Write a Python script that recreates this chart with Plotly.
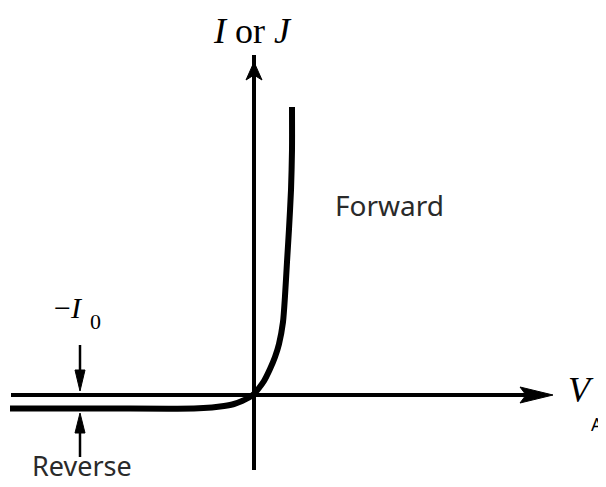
import plotly.graph_objects as go

# Diode I-V characteristic (arbitrary units)
V_curve = [-244, -150, -60, -42, -30, -20, -12, -5, 0, 5, 10, 16, 21, 25, 29, 31, 33, 35, 37, 38, 38]
I_curve = [-13.5, -13.5, -13.5, -12.5, -11, -9, -6, -2.5, 1, 7, 14, 26, 38, 51, 73, 99, 133, 166, 205, 245, 288]

# axis extents (same units)
x_axis_min, x_axis_max = -243, 299
y_axis_min, y_axis_max = -75, 340
i0_marker_x = -174

fig = go.Figure()

fig.add_trace(go.Scatter(
    x=V_curve, y=I_curve, mode="lines",
    line=dict(color="black", width=6, shape="spline", smoothing=0.7),
    hoverinfo="skip", showlegend=False))

shapes = []
# horizontal axis line + arrowhead
shapes.append(dict(type="line", x0=x_axis_min, y0=0, x1=x_axis_max - 25, y1=0,
                   line=dict(color="black", width=4)))
tx = x_axis_max
shapes.append(dict(type="path",
                   path=f"M {tx} 0 L {tx-33} 8 L {tx-27} 0 L {tx-33} -8 Z",
                   fillcolor="black", line=dict(color="black", width=1)))
# vertical axis line + arrowhead
shapes.append(dict(type="line", x0=0, y0=y_axis_min, x1=0, y1=y_axis_max,
                   line=dict(color="black", width=4)))
ty = y_axis_max - 7
shapes.append(dict(type="path",
                   path=f"M 0 {ty} L 8 {ty-18} L 0 {ty-13} L -8 {ty-18} Z",
                   fillcolor="black", line=dict(color="black", width=1)))
# -I0 dimension arrows
shapes.append(dict(type="line", x0=i0_marker_x, y0=50, x1=i0_marker_x, y1=22,
                   line=dict(color="black", width=2.5)))
shapes.append(dict(type="path",
                   path=f"M {i0_marker_x} 4 L {i0_marker_x-5} 25 L {i0_marker_x+5} 25 Z",
                   fillcolor="black", line=dict(color="black", width=1)))
shapes.append(dict(type="line", x0=i0_marker_x, y0=-62, x1=i0_marker_x, y1=-35,
                   line=dict(color="black", width=2.5)))
shapes.append(dict(type="path",
                   path=f"M {i0_marker_x} -18 L {i0_marker_x-5} -38 L {i0_marker_x+5} -38 Z",
                   fillcolor="black", line=dict(color="black", width=1)))

serif = "Liberation Serif"
sans = "Noto Sans"
ann = [
    dict(x=-2, y=386, text="<i>I</i> or <i>J</i>", font=dict(family=serif, size=36, color="black"),
         xanchor="center", yanchor="top"),
    dict(x=312, y=5, text="<i>V</i>", font=dict(family=serif, size=36, color="black"),
         xanchor="left", yanchor="middle"),
    dict(x=335, y=-29, text="A", font=dict(family=sans, size=18, color="black"),
         xanchor="left", yanchor="middle"),
    dict(x=-186, y=88, text="−<i>I</i>", font=dict(family=serif, size=30, color="black"),
         xanchor="center", yanchor="middle"),
    dict(x=-159, y=74, text="0", font=dict(family=serif, size=22, color="black"),
         xanchor="center", yanchor="middle"),
    dict(x=135, y=190, text="Forward", font=dict(family=sans, size=28, color="#2a2a2a"),
         xanchor="center", yanchor="middle"),
    dict(x=-172, y=-91, text="Reverse", font=dict(family=sans, size=27, color="#2a2a2a"),
         xanchor="center", yanchor="bottom"),
]
for a in ann:
    a.update(showarrow=False, xref="x", yref="y")

# the page body adds an 8px margin, so the figure is 8px smaller than the window
fig.update_layout(
    width=598, height=479,
    margin=dict(l=0, r=0, t=0, b=0),
    paper_bgcolor="white", plot_bgcolor="white",
    xaxis=dict(range=[-246, 352], visible=False, fixedrange=True),
    yaxis=dict(range=[-92, 387], visible=False, fixedrange=True),
    shapes=shapes, annotations=ann, showlegend=False,
)

fig.write_html("out.html")
